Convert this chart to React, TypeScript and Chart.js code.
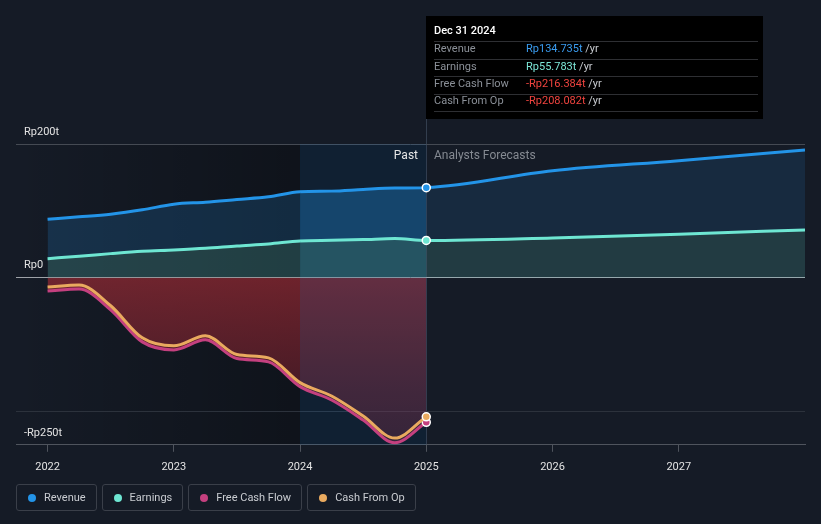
import { useEffect, useRef } from 'react';
import { Chart, registerables } from 'chart.js';

Chart.register(...registerables);

// ---- data ----
const seriesYears = [2022, 2022.25, 2022.5, 2022.75, 2023, 2023.25, 2023.5, 2023.75, 2024, 2024.25, 2024.5, 2024.75, 2025, 2026, 2027, 2028];
const revenueValues = [87.5, 91, 95, 101.5, 110, 113, 117, 121, 128.5, 129.5, 132, 134, 134.735, 160, 175, 191];
const earningsValues = [28.5, 32, 36, 39.5, 41.5, 44, 47.5, 50.5, 55, 56, 57, 58.5, 55.783, 59.5, 65, 71.5];
const cashYears = [2022, 2022.25, 2022.5, 2022.75, 2023, 2023.25, 2023.5, 2023.75, 2024, 2024.25, 2024.5, 2024.75, 2025];
const fcfValues = [-20, -17, -48, -96, -108, -93, -121, -126, -163, -183, -213, -247, -216.384];
const cfoValues = [-14, -11, -42, -90, -102, -87, -115, -120, -157, -177, -207, -240, -208.082];
const xTickYears = [2022, 2023, 2024, 2025, 2026, 2027];
const yTickValues = [-250, -200, 0, 200];
const yTickLabels = ['-Rp250t', '', 'Rp0', 'Rp200t'];
const seriesNames = ['Revenue', 'Earnings', 'Free Cash Flow', 'Cash From Op'];
const tooltipDate = 'Dec 31 2024';
const highlightStart = 2024;
const pastEnd = 2025;

// ---- style ----
const BG = '#151b26';
const FONT = 'Roboto, "Noto Sans", sans-serif';
const COLORS = ['#2394e8', '#6ee6d2', '#c4407f', '#e9aa5f'];
const VALUE_COLORS = ['#3a9cf0', '#7de8d8', '#f0443f', '#f0443f'];

const fmt = (v: number) => (v < 0 ? '-' : '') + 'Rp' + Math.abs(v).toFixed(3) + 't';

const overlayPlugin = {
  id: 'overlay',
  beforeDraw(chart: any) {
    const { ctx, width, height, chartArea: a, scales } = chart;
    const x = scales.x;
    ctx.save();
    ctx.fillStyle = BG;
    ctx.fillRect(0, 0, width, height);
    const xh = x.getPixelForValue(highlightStart);
    const xp = x.getPixelForValue(pastEnd);
    const g = ctx.createLinearGradient(a.left, 0, xh, 0);
    g.addColorStop(0, 'rgba(0,0,0,0)');
    g.addColorStop(1, 'rgba(0,0,0,0.3)');
    ctx.fillStyle = g;
    ctx.fillRect(a.left, a.top, xh - a.left, a.bottom - a.top);
    ctx.fillStyle = 'rgba(0,0,0,0.3)';
    ctx.fillRect(xh, a.top, xp - xh, a.bottom - a.top);
    ctx.strokeStyle = 'rgba(110,130,155,0.35)';
    ctx.lineWidth = 1;
    ctx.beginPath();
    ctx.moveTo(Math.round(xp) + 0.5, 16);
    ctx.lineTo(Math.round(xp) + 0.5, a.bottom);
    ctx.stroke();
    ctx.restore();
  },
  beforeDatasetsDraw(chart: any) {
    // runs after the filler has painted the areas, before the lines
    const { ctx, chartArea: a, scales } = chart;
    const xh = scales.x.getPixelForValue(highlightStart);
    const xp = scales.x.getPixelForValue(pastEnd);
    ctx.save();
    ctx.fillStyle = 'rgba(30,130,220,0.13)';
    ctx.fillRect(xh, a.top, xp - xh, a.bottom - a.top);
    ctx.restore();
  },
  afterDraw(chart: any) {
    const { ctx, chartArea: a, scales } = chart;
    const xp = Math.round(scales.x.getPixelForValue(pastEnd));
    ctx.save();
    // Past / forecast labels
    ctx.font = `12px ${FONT}`;
    ctx.textBaseline = 'middle';
    ctx.textAlign = 'right';
    ctx.fillStyle = '#e6e6e6';
    ctx.fillText('Past', xp - 8, a.top + 12);
    ctx.textAlign = 'left';
    ctx.fillStyle = '#858a92';
    ctx.fillText('Analysts Forecasts', xp + 8, a.top + 12);

    // tooltip box
    const bx = xp, by = 16, bw = 337, bh = 103;
    ctx.fillStyle = '#000000';
    ctx.fillRect(bx, by, bw, bh);
    ctx.font = `500 11px ${FONT}`;
    ctx.fillStyle = '#ffffff';
    ctx.fillText(tooltipDate, bx + 8, by + 15.5);
    const values = [
      revenueValues[seriesYears.indexOf(pastEnd)],
      earningsValues[seriesYears.indexOf(pastEnd)],
      fcfValues[cashYears.indexOf(pastEnd)],
      cfoValues[cashYears.indexOf(pastEnd)],
    ];
    ctx.strokeStyle = '#2e2f33';
    ctx.lineWidth = 1;
    for (let i = 0; i < 5; i++) {
      const ly = Math.round(by + 25 + i * 17.5) + 0.5;
      ctx.beginPath();
      ctx.moveTo(bx + 8, ly);
      ctx.lineTo(bx + bw - 5, ly);
      ctx.stroke();
    }
    ctx.font = `11px ${FONT}`;
    for (let i = 0; i < 4; i++) {
      const ty = by + 33.5 + i * 17.3;
      ctx.fillStyle = '#8b9098';
      ctx.fillText(seriesNames[i], bx + 8, ty);
      const vt = fmt(values[i]);
      ctx.fillStyle = VALUE_COLORS[i];
      ctx.fillText(vt, bx + 100, ty);
      const w = ctx.measureText(vt).width;
      ctx.fillStyle = '#c9ccd1';
      ctx.fillText(' /yr', bx + 100 + w, ty);
    }
    ctx.restore();
  },
};

function toPoints(xs: number[], ys: number[]) {
  return xs.map((x, i) => ({ x, y: ys[i] }));
}

const pointRadius = (ctx: any) => (ctx.raw && ctx.raw.x === pastEnd ? 4 : 0);

// fill colour by period: before highlight, highlighted past year, forecast
const periodFill = (before: string, highlight: string, forecast: string) => (ctx: any) => {
  const x0 = ctx.p0.parsed.x;
  if (x0 >= pastEnd) return forecast;
  if (x0 >= highlightStart) return highlight;
  return before;
};

export default function App() {
  const ref = useRef<HTMLCanvasElement>(null);

  useEffect(() => {
    document.body.style.margin = '0';
    document.body.style.background = BG;
    const canvas = ref.current!;
    const redFill = (c: any) => {
      const area = c.chart.chartArea;
      if (!area) return 'rgba(150,40,48,0.6)';
      const g = c.chart.ctx.createLinearGradient(0, area.top, 0, area.bottom);
      g.addColorStop(0.3, 'rgba(170,46,54,0.72)');
      g.addColorStop(1, 'rgba(125,32,48,0.38)');
      return g;
    };
    const chart = new Chart(canvas, {
      type: 'line',
      data: {
        datasets: [
          {
            label: seriesNames[0],
            data: toPoints(seriesYears, revenueValues),
            borderColor: COLORS[0],
            backgroundColor: 'rgba(35,148,232,0.18)',
            segment: {
              backgroundColor: periodFill('rgba(35,148,232,0.19)', 'rgba(35,148,232,0.32)', 'rgba(35,148,232,0.13)'),
            },
            fill: 1,
            borderWidth: 3,
            order: 3,
          },
          {
            label: seriesNames[1],
            data: toPoints(seriesYears, earningsValues),
            borderColor: COLORS[1],
            backgroundColor: 'rgba(100,220,210,0.22)',
            segment: {
              backgroundColor: periodFill('rgba(100,220,210,0.22)', 'rgba(100,220,210,0.3)', 'rgba(100,220,210,0.17)'),
            },
            fill: 'origin',
            borderWidth: 3,
            order: 2,
          },
          {
            label: seriesNames[2],
            data: toPoints(cashYears, fcfValues),
            borderColor: COLORS[2],
            backgroundColor: redFill,
            fill: 'origin',
            borderWidth: 3,
            order: 1,
          },
          {
            label: seriesNames[3],
            data: toPoints(cashYears, cfoValues),
            borderColor: COLORS[3],
            backgroundColor: COLORS[3],
            fill: false,
            borderWidth: 3,
            order: 0,
          },
        ].map((d, i) => ({
          ...d,
          cubicInterpolationMode: 'monotone' as const,
          pointRadius,
          pointHoverRadius: pointRadius,
          pointBackgroundColor: COLORS[i],
          pointBorderColor: '#ffffff',
          pointBorderWidth: 1.5,
        })),
      },
      options: {
        animation: false,
        responsive: false,
        maintainAspectRatio: false,
        events: [],
        layout: { padding: { top: 144, left: 0, right: 16, bottom: 41 } },
        plugins: {
          legend: { display: false },
          tooltip: { enabled: false },
          filler: { drawTime: 'beforeDatasetsDraw' },
        } as any,
        scales: {
          x: {
            type: 'linear',
            min: 2021.75,
            max: 2028,
            afterBuildTicks: (s: any) => {
              s.ticks = xTickYears.map((v) => ({ value: v }));
            },
            ticks: {
              color: '#e3e3e3',
              font: { family: FONT, size: 11 },
              padding: 9,
              maxRotation: 0,
              callback: (v: any) => String(v),
            },
            grid: { drawOnChartArea: false, drawTicks: true, tickLength: 7, color: '#4f545d' },
            border: { display: true, color: '#4f545d', width: 1 },
          },
          y: {
            type: 'linear',
            min: -250,
            max: 200,
            afterBuildTicks: (s: any) => {
              s.ticks = yTickValues.map((v) => ({ value: v }));
            },
            ticks: {
              mirror: true,
              padding: 8,
              labelOffset: -12,
              color: '#e3e3e3',
              font: { family: FONT, size: 11 },
              callback: (v: any) => yTickLabels[yTickValues.indexOf(Number(v))] ?? '',
            },
            grid: {
              drawTicks: false,
              color: (c: any) => {
                const v = c.tick && c.tick.value;
                if (v === 0) return '#9ea2a8';
                if (v === 200) return '#454a53';
                if (v === -250) return '#4f545d';
                return '#2c323c';
              },
            },
            border: { display: false },
          },
        },
      },
      plugins: [overlayPlugin],
    });
    return () => chart.destroy();
  }, []);

  return (
    <div style={{ position: 'relative', width: 821, height: 524, background: BG, fontFamily: FONT }}>
      <canvas ref={ref} width={821} height={524} style={{ display: 'block', width: 821, height: 524 }} />
      <div style={{ position: 'absolute', left: 16, top: 484, display: 'flex', gap: 5 }}>
        {seriesNames.map((n, i) => (
          <div
            key={n}
            style={{
              height: 25,
              border: '1px solid #3a3f49',
              borderRadius: 3,
              padding: '0 10px 0 11px',
              display: 'flex',
              alignItems: 'center',
              fontSize: 11,
              color: '#c9ccd1',
              whiteSpace: 'nowrap',
            }}
          >
            <span style={{ width: 8, height: 8, borderRadius: '50%', background: COLORS[i], marginRight: 8, display: 'inline-block' }} />
            {n}
          </div>
        ))}
      </div>
    </div>
  );
}
